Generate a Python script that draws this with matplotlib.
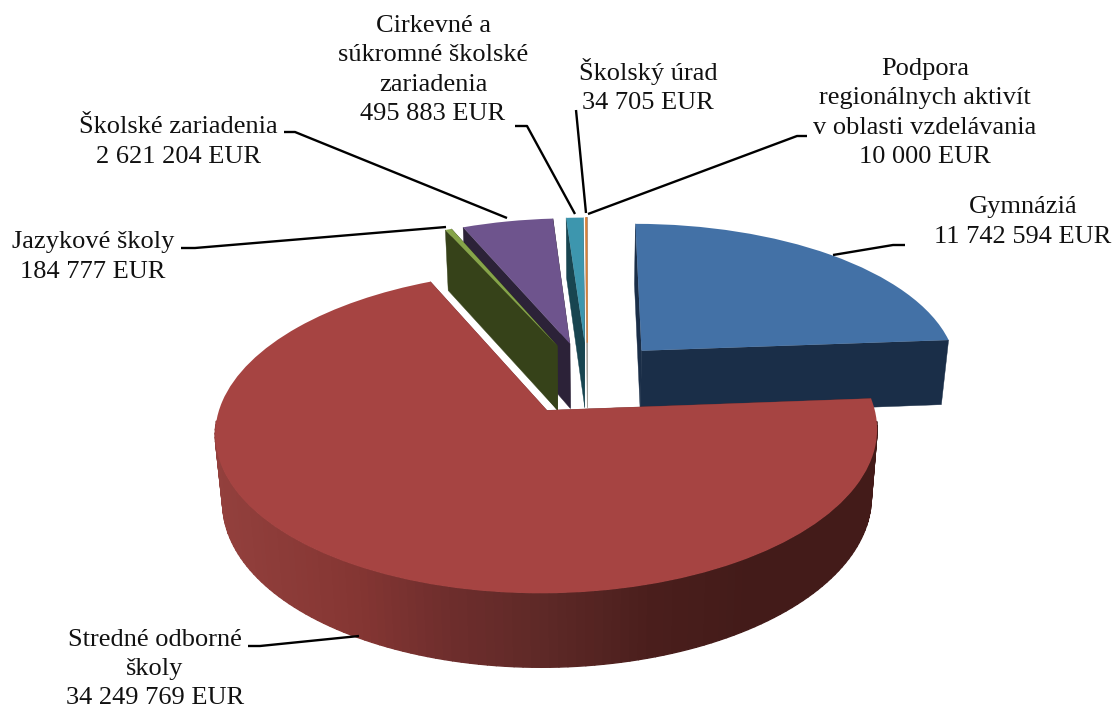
import numpy as np
import matplotlib
matplotlib.use("Agg")
import matplotlib.pyplot as plt
from matplotlib.collections import PolyCollection
from matplotlib.transforms import Transform

# ---- data ----
categories = ["Gymnáziá", "Stredné odborné školy", "Jazykové školy", "Školské zariadenia",
              "Cirkevné a súkromné školské zariadenia", "Školský úrad",
              "Podpora regionálnych aktivít v oblasti vzdelávania"]
values = [11742594, 34249769, 184777, 2621204, 495883, 34705, 10000]
explode = [0.255, 0.243, 0.243, 0.243, 0.243, 0.243, 0.243]
label_texts = ["Gymnáziá\n11 742 594 EUR",
               "Stredné odborné\nškoly\n34 249 769 EUR",
               "Jazykové školy\n184 777 EUR",
               "Školské zariadenia\n2 621 204 EUR",
               "Cirkevné a\nsúkromné školské\nzariadenia\n495 883 EUR",
               "Školský úrad\n34 705 EUR",
               "Podpora\nregionálnych aktivít\nv oblasti vzdelávania\n10 000 EUR"]
top_colors = ["#4371A6", "#A64442", "#86A44A", "#6E548D", "#3D96AE", "#DA8137", "#93A9CF"]
side_colors = ["#1A2E48", "#7A2E2D", "#364219", "#2C2238", "#184550", "#A8A29A", "#A0A0A0"]
label_pos = [(1023, 222), (155, 669), (93, 257), (178, 142), (433, 70), (648, 86), (925, 113)]
leaders = [[(905, 245), (893, 245), (833, 255)],
           [(248, 646), (260, 646), (359, 636)],
           [(181, 248), (195, 248), (446, 227)],
           [(284, 132), (295, 132), (507, 218)],
           [(515, 126), (527, 126), (575, 214)],
           [(576, 110), (586, 213)],
           [(807, 136), (797, 136), (588, 214)]]
rim_x = [215, 350, 440, 550, 650, 750, 880]
rim_r = [0x93, 0x85, 0x6F, 0x5C, 0x4A, 0x43, 0x43]
rim_g = [0x40, 0x36, 0x2E, 0x28, 0x1E, 0x1B, 0x1B]
rim_b = [0x3D, 0x33, 0x2D, 0x26, 0x1C, 0x19, 0x19]

CX, CY, A, B, K = 587.5, 378.1, 319.0, 150.0, 0.13
SX, SY, DEPTH = 0.98, 1.0373, 66.0


class Persp(Transform):
    """Perspective view of the tilted pie plane, at top (z=0) or base (z=1)."""
    input_dims = output_dims = 2
    is_affine = False
    has_inverse = False

    def __init__(self, z=0):
        super().__init__()
        self.z = z

    def transform_non_affine(self, xy):
        xy = np.asarray(xy, float)
        w = 1 + K * xy[:, 1]
        x = CX + A * xy[:, 0] / w
        y = CY - B * xy[:, 1] / w
        if self.z:
            x = CX + SX * (x - CX)
            y = y + DEPTH + (SY - 1) * (y - CY)
        return np.column_stack([x, y])


fig = plt.figure(figsize=(11.16, 7.07), dpi=100, facecolor="white")
ax = fig.add_axes([0, 0, 1, 1])
wedges, _ = ax.pie(values, explode=explode, startangle=90, counterclock=False,
                   colors=top_colors, radius=1, wedgeprops=dict(linewidth=0))
ax.set_aspect("auto")
ax.set_xlim(0, 1116)
ax.set_ylim(707, 0)
ax.axis("off")

top_t, base_t = Persp(0), Persp(1)
# paint from the back of the pie to the front
order = [0, 6, 5, 4, 3, 2, 1]
for z, i in enumerate(order):
    w = wedges[i]
    c = np.array(w.center)
    ths = np.radians(np.linspace(w.theta1, w.theta2, 181))
    rim = c + np.column_stack([np.cos(ths), np.sin(ths)]) * w.r
    rt, rb = top_t.transform(rim), base_t.transform(rim)
    tip_t, tip_b = top_t.transform(c[None])[0], base_t.transform(c[None])[0]
    # the two cut faces
    faces = [[tip_t, rt[0], rb[0], tip_b], [tip_t, rt[-1], rb[-1], tip_b]]
    ax.add_collection(PolyCollection(faces, facecolors=side_colors[i], edgecolors=side_colors[i],
                                     linewidths=0.3, zorder=10 + 2 * z))
    # the outer rim, in short quads so that it can carry a shading; only where it faces the viewer
    keep = [j for j in range(len(rt) - 1) if np.sin(ths[j]) < -0.05 and np.sin(ths[j + 1]) < -0.05]
    quads = [[rt[j], rt[j + 1], rb[j + 1], rb[j]] for j in keep]
    if quads:
        if i == 1:
            xm = np.array([q[0][0] for q in quads])
            cols = np.column_stack([np.interp(xm, rim_x, rim_r), np.interp(xm, rim_x, rim_g),
                                    np.interp(xm, rim_x, rim_b)]) / 255
        else:
            cols = [side_colors[i]] * len(quads)
        ax.add_collection(PolyCollection(quads, facecolors=cols, edgecolors=cols,
                                         linewidths=1.0, zorder=10 + 2 * z))
    w.set_transform(top_t + ax.transData)
    w.set_clip_on(False)
    w.set_zorder(11 + 2 * z)
    if i >= 5:
        w.set_edgecolor(top_colors[i])
        w.set_linewidth(0.8)

for pts in leaders:
    xs, ys = zip(*pts)
    ax.plot(xs, ys, color="black", lw=1.7, zorder=40, solid_capstyle="butt")
for txt, (x, y) in zip(label_texts, label_pos):
    ax.text(x, y, txt, ha="center", va="center", family="Liberation Serif", fontsize=19,
            color="#111111", linespacing=1.42, zorder=41)

fig.savefig("out.png", dpi=100, facecolor="white")
